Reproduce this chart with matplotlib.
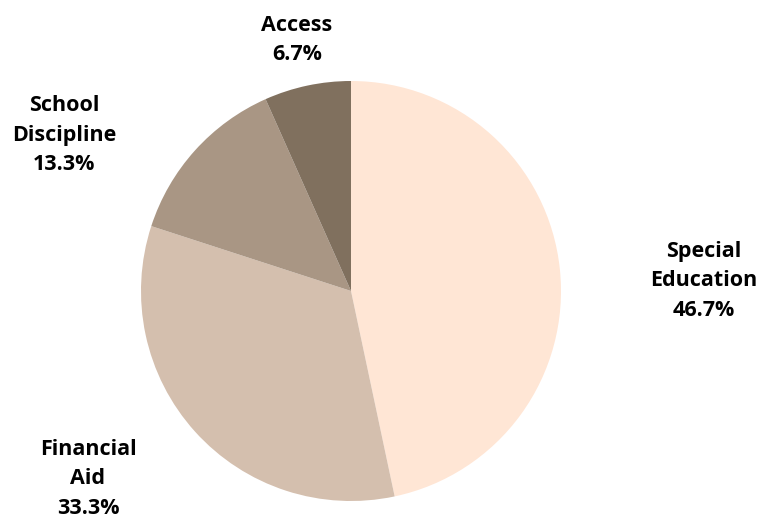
import os
import matplotlib
matplotlib.use("Agg")
import matplotlib.pyplot as plt
from matplotlib.font_manager import FontProperties

categories = ["Special\nEducation", "Financial\nAid", "School\nDiscipline", "Access"]
values = [7, 5, 2, 1]
colors = ["#FFE6D5", "#D4BFAE", "#A99684", "#80705E"]
# label centres in pixels from top-left (layout only)
label_pos = [(704, 281), (88, 479), (64, 135), (297, 40)]

bold_path = "/usr/share/fonts/truetype/open-sans/OpenSans-Bold.ttf"
if os.path.exists(bold_path):
    fp = FontProperties(fname=bold_path, size=15.5)
else:
    fp = FontProperties(family="Open Sans", weight="bold", stretch="normal", size=15.5)

W, H = 766, 519
fig = plt.figure(figsize=(W / 100, H / 100), dpi=100)
ax = fig.add_axes([0, 0, 1, 1])
cx, cy, r = 351, H - 291, 210
wedges, _ = ax.pie(values, colors=colors, startangle=90, counterclock=False,
                   center=(cx, cy), radius=r, frame=False)
total = sum(values)
for cat, v, (px, py) in zip(categories, values, label_pos):
    ax.text(px, H - py, f"{cat}\n{v / total * 100:.1f}%", ha="center", va="center",
            fontproperties=fp, linespacing=1.55)
ax.set_xlim(0, W)
ax.set_ylim(0, H)
ax.set_aspect("equal")
ax.axis("off")
fig.savefig("out.png", dpi=100)
